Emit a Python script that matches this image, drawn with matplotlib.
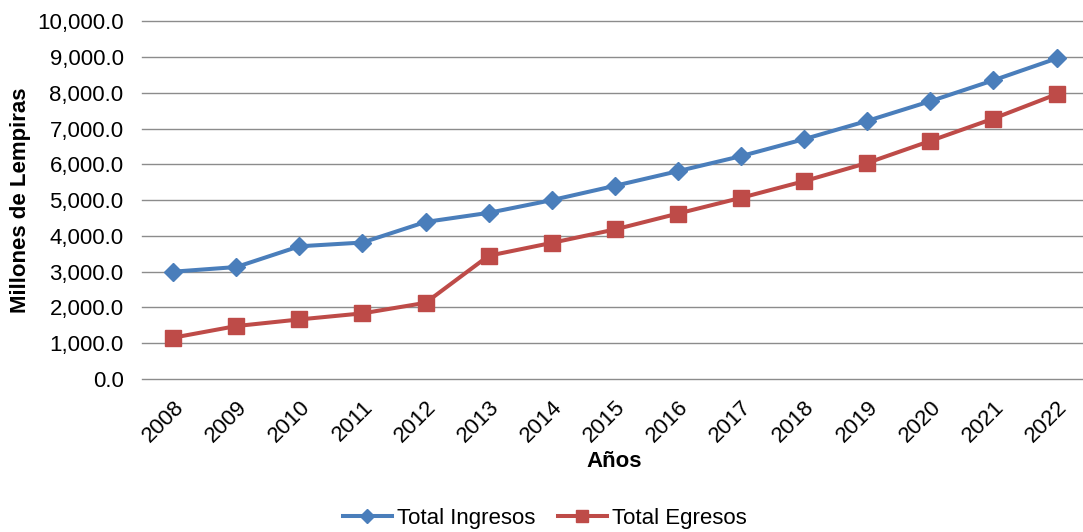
import matplotlib
matplotlib.use("Agg")
import matplotlib.pyplot as plt
from matplotlib.lines import Line2D
from matplotlib.ticker import FuncFormatter

years = ["2008", "2009", "2010", "2011", "2012", "2013", "2014", "2015",
         "2016", "2017", "2018", "2019", "2020", "2021", "2022"]
ingresos = [3000, 3130, 3710, 3815, 4390, 4645, 5000, 5400,
            5810, 6230, 6705, 7215, 7765, 8350, 8960]
egresos = [1155, 1480, 1665, 1835, 2130, 3445, 3805, 4180,
           4625, 5065, 5530, 6040, 6655, 7280, 7960]
yticks = list(range(0, 10001, 1000))

plt.rcParams['font.family'] = ['Liberation Sans', 'DejaVu Sans']

blue = "#4A7EBB"
red = "#BE4B48"
fs = 16

fig = plt.figure(figsize=(10.83, 5.32), dpi=100)
ax = fig.add_axes([0.1308, 0.2876, 0.8692, 0.6724])

x = list(range(len(years)))
ax.plot(x, ingresos, color=blue, lw=2.9, marker='D', markersize=8.8,
        markerfacecolor=blue, markeredgecolor=blue, label="Total Ingresos", zorder=3)
ax.plot(x, egresos, color=red, lw=2.9, marker='s', markersize=11.5,
        markerfacecolor=red, markeredgecolor=red, label="Total Egresos", zorder=3)

ax.set_xlim(-0.5, 14.42)
ax.set_ylim(0, 10000)
ax.set_yticks(yticks)
ax.yaxis.set_major_formatter(FuncFormatter(lambda v, p: f"{v:,.1f}"))
ax.set_xticks(x)
ax.set_xticklabels(years, rotation=45, ha='right', rotation_mode='anchor')
ax.tick_params(axis='both', length=0, labelsize=fs, colors='#000000')
ax.tick_params(axis='y', pad=13)
ax.tick_params(axis='x', pad=13)
ax.grid(axis='y', color='#8C8C8C', lw=1.0)
for gl in ax.get_ygridlines():
    gl.set_clip_on(False)
ax.set_axisbelow(True)
for s in ax.spines.values():
    s.set_visible(False)

fig.text(0.567, 0.132, "Años", ha='center', va='center', fontsize=fs, fontweight='bold')
fig.text(0.019, 0.624, "Millones de Lempiras", ha='center', va='center', rotation=90,
         fontsize=fs, fontweight='bold')

handles = [
    Line2D([], [], color=blue, lw=2.9, marker='D', markersize=7, markeredgecolor=blue),
    Line2D([], [], color=red, lw=2.9, marker='s', markersize=9, markeredgecolor=red),
]
fig.legend(handles, ["Total Ingresos", "Total Egresos"], loc='center',
           bbox_to_anchor=(0.503, 0.026), ncol=2, frameon=False, fontsize=fs,
           handlelength=2.2, handletextpad=0.25, columnspacing=1.0)

fig.savefig("out.png", dpi=100)
